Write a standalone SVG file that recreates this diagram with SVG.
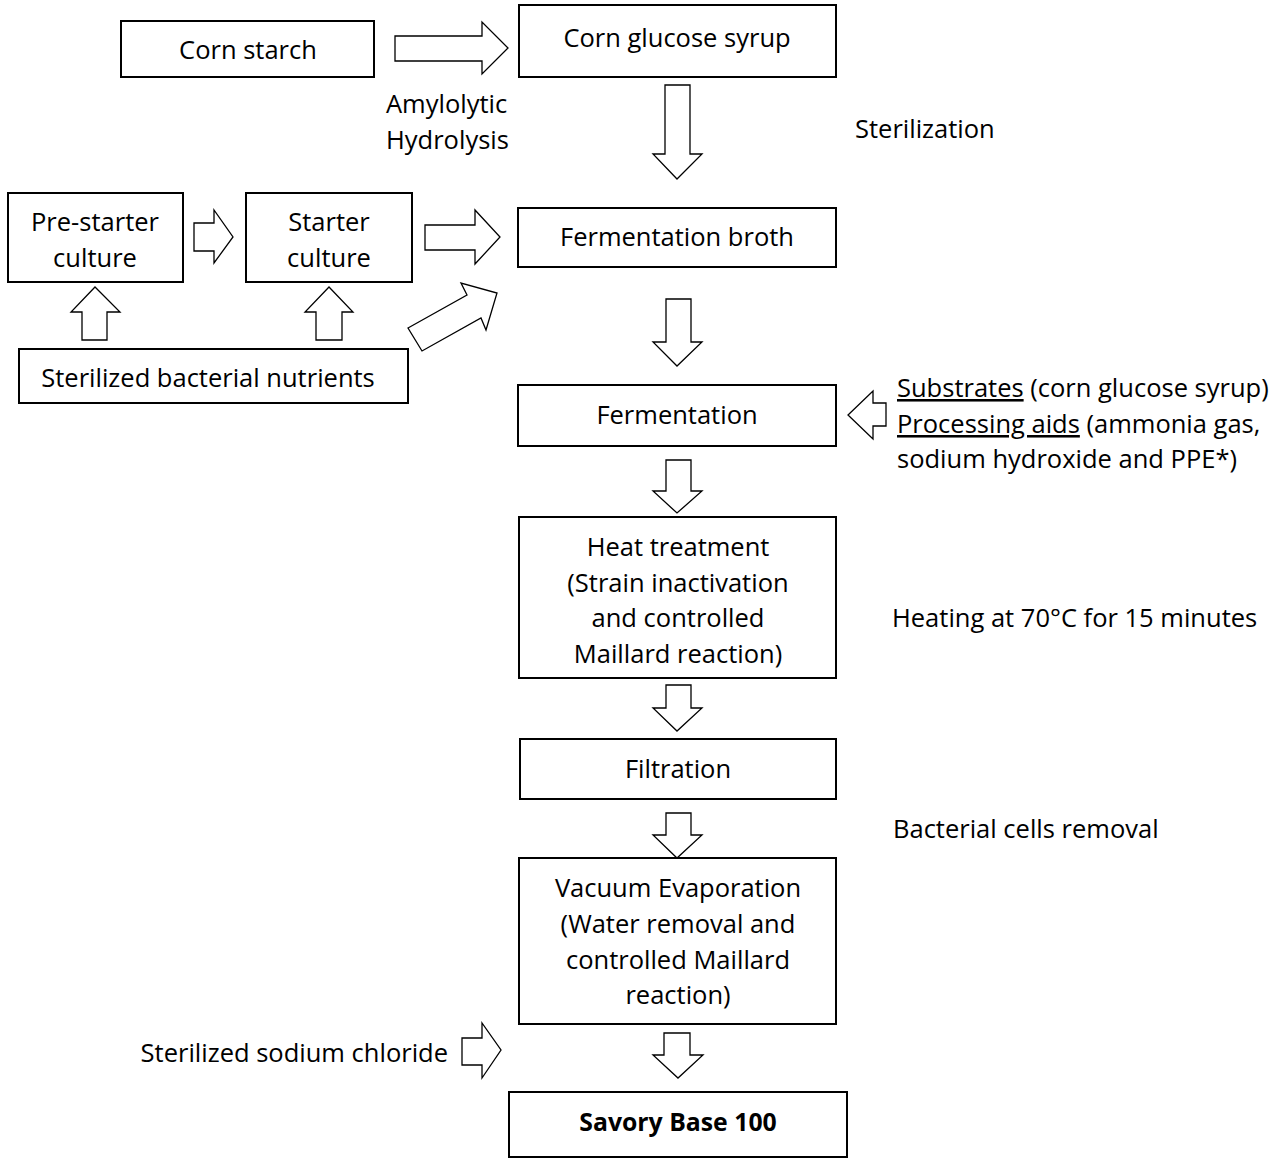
<svg xmlns="http://www.w3.org/2000/svg" width="1281" height="1159" viewBox="0 0 1281 1159">
<style>
.box{fill:#fff;stroke:#000;stroke-width:2}
.arr{fill:#fff;stroke:#000;stroke-width:1.3;stroke-linejoin:miter}
text{font-family:"Open Sans",Lato,sans-serif;font-size:25.5px;fill:#000}
.c{text-anchor:middle}
.b{font-weight:bold;font-size:24.8px}
.u{text-decoration:underline}
</style>
<rect width="1281" height="1159" fill="#fff"/>
<g id="connectors">
<polygon class="arr" points="395,36 482,36 482,22 508,48 482,74 482,61 395,61"/>
<polygon class="arr" points="665,85 690,85 690,154 702,154 677,179 653,154 665,154"/>
<polygon class="arr" points="194,223 214,223 214,210 233,237 214,263 214,251 194,251"/>
<polygon class="arr" points="425,225 475,225 475,210 500,237 475,264 475,250 425,250"/>
<polygon class="arr" points="408,328 467,295 461,283 497,293 486,330 481,318 422,351"/>
<polygon class="arr" points="82,340 82,312 71,312 95,287 120,312 107,312 107,340"/>
<polygon class="arr" points="316,340 316,312 305,312 329,287 353,312 342,312 342,340"/>
<polygon class="arr" points="666,299 691,299 691,342 702,342 677,366 653,342 666,342"/>
<polygon class="arr" points="886,403 886,426 873,426 873,439 848,415 873,391 873,403"/>
<polygon class="arr" points="666,460 691,460 691,491 702,491 677,513 653,491 666,491"/>
<polygon class="arr" points="666,685 691,685 691,708 702,708 677,731 653,708 666,708"/>
<polygon class="arr" points="666,813 691,813 691,835 702,835 677,858 653,835 666,835"/>
<polygon class="arr" points="664,1033 690,1033 690,1055 703,1055 678,1078 653,1055 664,1055"/>
<polygon class="arr" points="462,1038 482,1038 482,1023 501,1050 482,1078 482,1065 462,1065"/>
</g>
<g id="corn-starch"><rect class="box" x="121" y="21" width="253" height="56"/><text class="c" x="248" y="59">Corn starch</text></g>
<g id="corn-glucose-syrup"><rect class="box" x="519" y="5" width="317" height="72"/><text class="c" x="677" y="47">Corn glucose syrup</text></g>
<g id="amylolytic-label"><text x="386" y="113">Amylolytic</text><text x="386" y="149">Hydrolysis</text></g>
<g id="sterilization-label"><text x="855" y="138">Sterilization</text></g>
<g id="pre-starter"><rect class="box" x="8" y="193" width="175" height="89"/><text class="c" x="95" y="231">Pre-starter</text><text class="c" x="95" y="267">culture</text></g>
<g id="starter"><rect class="box" x="246" y="193" width="166" height="89"/><text class="c" x="329" y="231">Starter</text><text class="c" x="329" y="267">culture</text></g>
<g id="nutrients"><rect class="box" x="19" y="349" width="389" height="54"/><text class="c" x="208" y="387">Sterilized bacterial nutrients</text></g>
<g id="fermentation-broth"><rect class="box" x="518" y="208" width="318" height="59"/><text class="c" x="677" y="246">Fermentation broth</text></g>
<g id="fermentation"><rect class="box" x="518" y="385" width="318" height="61"/><text class="c" x="677" y="424">Fermentation</text></g>
<g id="substrates-label"><text x="897" y="397"><tspan class="u">Substrates</tspan> (corn glucose syrup)</text><text x="897" y="433"><tspan class="u">Processing aids</tspan> (ammonia gas,</text><text x="897" y="468">sodium hydroxide and PPE*)</text></g>
<g id="heat-treatment"><rect class="box" x="519" y="517" width="317" height="161"/><text class="c" x="678" y="556">Heat treatment</text><text class="c" x="678" y="592">(Strain inactivation</text><text class="c" x="678" y="627">and controlled</text><text class="c" x="678" y="663">Maillard reaction)</text></g>
<g id="heating-label"><text x="892" y="627">Heating at 70°C for 15 minutes</text></g>
<g id="filtration"><rect class="box" x="520" y="739" width="316" height="60"/><text class="c" x="678" y="778">Filtration</text></g>
<g id="cells-label"><text x="893" y="838">Bacterial cells removal</text></g>
<g id="vacuum-evaporation"><rect class="box" x="519" y="858" width="317" height="166"/><text class="c" x="678" y="897">Vacuum Evaporation</text><text class="c" x="678" y="933">(Water removal and</text><text class="c" x="678" y="969">controlled Maillard</text><text class="c" x="678" y="1004">reaction)</text></g>
<g id="sodium-label"><text x="448" y="1062" text-anchor="end">Sterilized sodium chloride</text></g>
<g id="savory-base"><rect class="box" x="509" y="1092" width="338" height="65"/><text class="c b" x="678" y="1131">Savory Base 100</text></g>
</svg>
